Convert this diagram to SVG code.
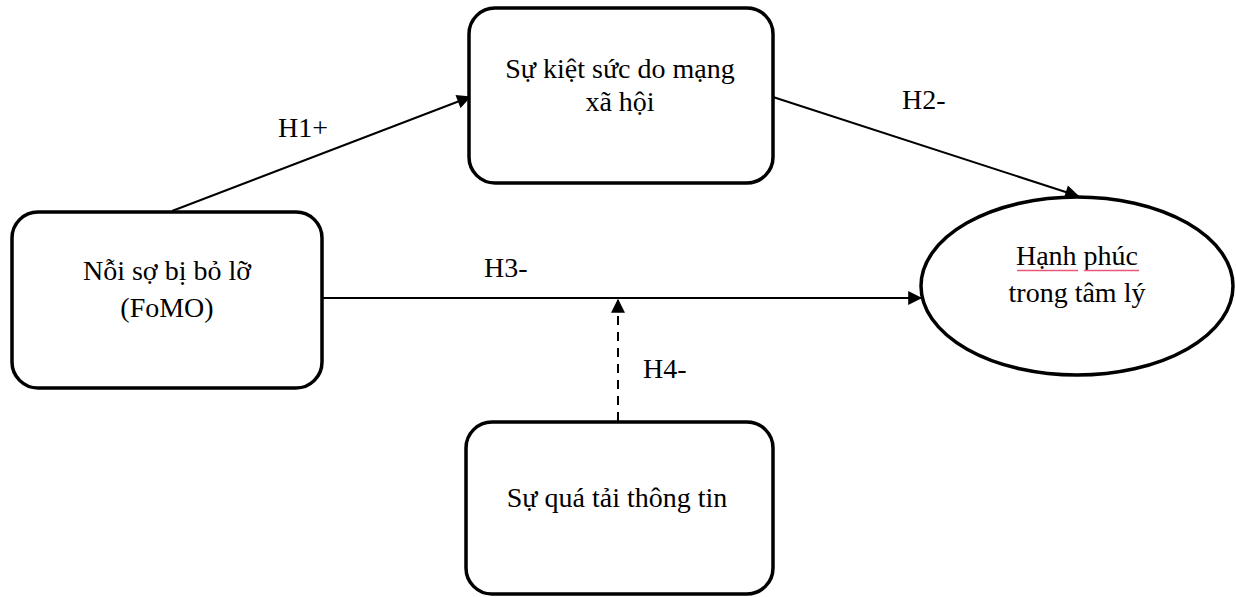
<svg xmlns="http://www.w3.org/2000/svg" width="1236" height="597" viewBox="0 0 1236 597">
  <style>
    .node { fill: #fff; stroke: #000; stroke-width: 3.5; }
    .txt { font-family: "Liberation Serif", "Times New Roman", serif; font-size: 28px; fill: #000; text-anchor: middle; }
    .lbl { font-family: "Liberation Serif", "Times New Roman", serif; font-size: 28px; fill: #000; }
    .edge { fill: none; stroke: #000; stroke-width: 2; }
    .dash { stroke-dasharray: 9 7; }
  </style>
  <defs>
    <marker id="head" viewBox="0 0 12 12" refX="11" refY="6" markerWidth="16" markerHeight="14" orient="auto" markerUnits="userSpaceOnUse">
      <path d="M0,0 L12,6 L0,12 Z" fill="#000"/>
    </marker>
  </defs>

  <g id="connectors">
    <line class="edge" x1="172" y1="211" x2="470" y2="97" marker-end="url(#head)"/>
    <line class="edge" x1="773" y1="97" x2="1078" y2="196" marker-end="url(#head)"/>
    <line class="edge" x1="323" y1="298" x2="921" y2="298" marker-end="url(#head)"/>
    <line class="edge dash" x1="618" y1="421" x2="618" y2="300" marker-end="url(#head)"/>
    <text class="lbl" x="278" y="137">H1+</text>
    <text class="lbl" x="902" y="109">H2-</text>
    <text class="lbl" x="484" y="277">H3-</text>
    <text class="lbl" x="643" y="378">H4-</text>
  </g>

  <g id="fomo">
    <rect class="node" x="12" y="212" width="310" height="176" rx="26"/>
    <text class="txt" x="167" y="280">Nỗi sợ bị bỏ lỡ</text>
    <text class="txt" x="167" y="317">(FoMO)</text>
  </g>

  <g id="burnout">
    <rect class="node" x="469" y="8" width="304" height="175" rx="26"/>
    <text class="txt" x="620" y="78">Sự kiệt sức do mạng</text>
    <text class="txt" x="620" y="111">xã hội</text>
  </g>

  <g id="overload">
    <rect class="node" x="466" y="422" width="307" height="172" rx="26"/>
    <text class="txt" x="617" y="507">Sự quá tải thông tin</text>
  </g>

  <g id="wellbeing">
    <ellipse class="node" cx="1077" cy="286" rx="156" ry="89"/>
    <text class="txt" x="1077" y="265">Hạnh phúc</text>
    <text class="txt" x="1077" y="302">trong tâm lý</text>
    <!-- spell-check underline beneath the first line -->
    <path d="M1017,270.5 H1078 M1084,270.5 H1139" stroke="#e8577a" stroke-width="1.3" fill="none"/>
  </g>
</svg>
